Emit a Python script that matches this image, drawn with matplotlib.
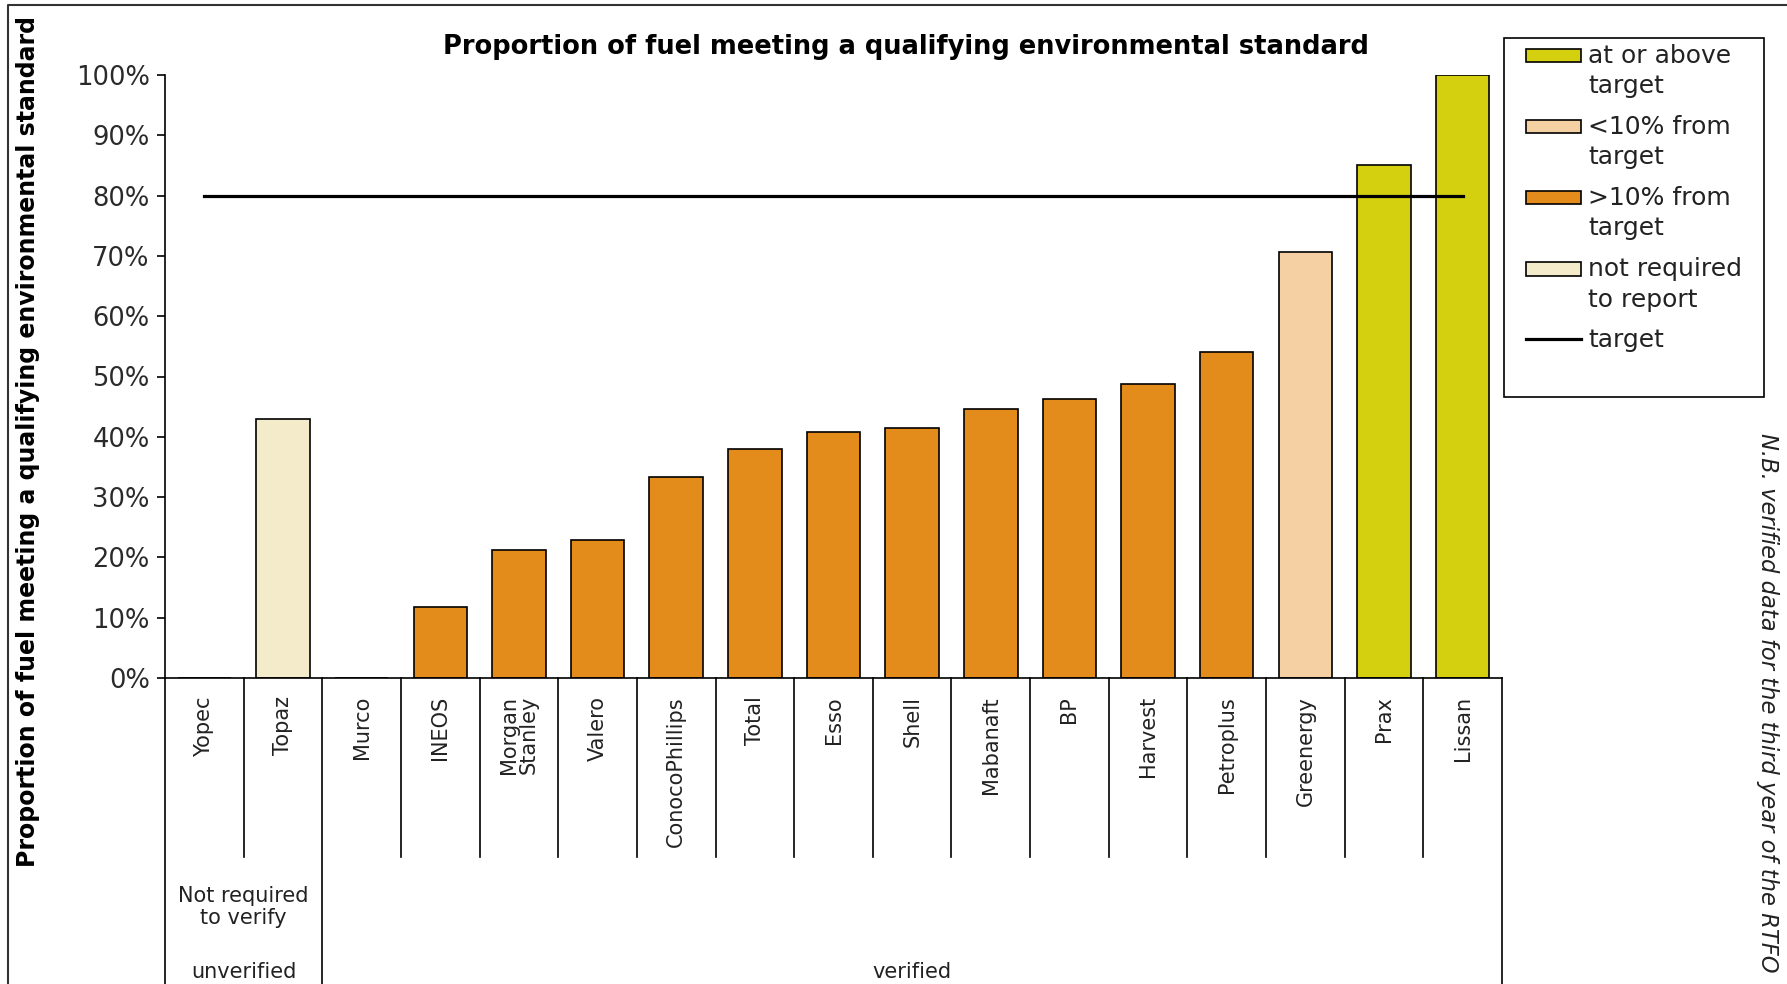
import matplotlib.pyplot as plt
import numpy as np
from matplotlib.patches import Patch, Rectangle
from matplotlib.lines import Line2D
from matplotlib.legend_handler import HandlerPatch
from matplotlib.ticker import PercentFormatter

# ---------------- data ----------------
suppliers = ["Yopec", "Topaz", "Murco", "INEOS", "Morgan\nStanley", "Valero",
             "ConocoPhillips", "Total", "Esso", "Shell", "Mabanaft", "BP",
             "Harvest", "Petroplus", "Greenergy", "Prax", "Lissan"]
share = [0.0, 42.9, 0.0, 11.7, 21.2, 22.9, 33.3, 38.0, 40.8, 41.4, 44.6,
         46.3, 48.8, 54.1, 70.7, 85.1, 100.0]
status = ["none", "not_req", "none", "far", "far", "far", "far", "far", "far",
          "far", "far", "far", "far", "far", "near", "above", "above"]
target = 80.0

status_colors = {
    "above": "#D4D010",
    "near": "#F5D0A2",
    "far": "#E38B1B",
    "not_req": "#F3EBC9",
    "none": "white",
}
legend_labels = [("above", "at or above\ntarget"), ("near", "<10% from\ntarget"),
                 ("far", ">10% from\ntarget"), ("not_req", "not required\nto report")]

W, H = 1787, 984
fig = plt.figure(figsize=(W / 100, H / 100), dpi=100)
ax = fig.add_axes([165 / W, 1 - 678 / H, (1502 - 165) / W, (678 - 75) / H])

x = np.arange(len(suppliers))
colors = [status_colors[s] for s in status]
ax.bar(x, share, width=0.68, color=colors, edgecolor="black", linewidth=1.2, zorder=2)
ax.plot([x[0], x[-1]], [target, target], color="black", linewidth=2.3, zorder=3)

ax.set_xlim(-0.5, len(suppliers) - 0.5)
ax.set_ylim(0, 100)
ax.set_yticks(np.arange(0, 101, 10))
ax.yaxis.set_major_formatter(PercentFormatter(decimals=0))
ax.tick_params(axis="y", direction="out", length=6, width=1.2, labelsize=18.5,
               labelcolor="#2a2a2a", pad=5)
ax.set_xticks(x)
ax.set_xticklabels(suppliers, rotation=90, fontsize=15, color="#222222",
                   multialignment="center", linespacing=1.0)
ax.tick_params(axis="x", length=0, pad=13)
for side in ["top", "right"]:
    ax.spines[side].set_visible(False)
for side in ["left", "bottom"]:
    ax.spines[side].set_linewidth(1.2)

# category separators below the axis
trans = ax.get_xaxis_transform()
for b in np.arange(0.5, len(suppliers) - 1, 1.0):
    if b == 1.5:
        continue
    ax.plot([b, b], [0, -0.297], color="black", linewidth=1.2, transform=trans,
            clip_on=False)
for b in [-0.5, 1.5, len(suppliers) - 0.5]:
    ax.plot([b, b], [0, -0.52], color="black", linewidth=1.2, transform=trans,
            clip_on=False)

ax.text(0.5, -0.38, "Not required\nto verify", transform=trans, ha="center",
        va="center", fontsize=15, color="#222222", linespacing=1.1)
ax.text(0.5, -0.487, "unverified", transform=trans, ha="center", va="center",
        fontsize=15, color="#222222")
ax.text(9, -0.487, "verified", transform=trans, ha="center", va="center",
        fontsize=15, color="#222222")

ax.set_ylabel("Proportion of fuel meeting a qualifying environmental standard",
              fontsize=17, fontweight="bold")
ax.yaxis.set_label_coords(-0.0935, 0.393)

fig.text(906 / W, 1 - 47 / H, "Proportion of fuel meeting a qualifying environmental standard",
         ha="center", va="center", fontsize=18.5, fontweight="bold")

fig.text(1767 / W, 1 - 433 / H, "N.B. verified data for the third year of the RTFO",
         rotation=-90, ha="center", va="top", fontsize=16.3, style="italic",
         color="#222222")

# chart border (left and top)
fig.add_artist(Line2D([8 / W, 8 / W, 1], [0, 1 - 5 / H, 1 - 5 / H],
                      color="#333333", linewidth=1.5))


# legend: patch handles sit level with the first text line
def first_line_patch(legend, orig_handle, xdescent, ydescent, width, height, fontsize):
    return Rectangle((-xdescent, -ydescent + 0.64 * fontsize), width, height)


fig.add_artist(Rectangle((1504 / W, 1 - 397 / H), (1764 - 1504) / W, (397 - 38) / H,
                         transform=fig.transFigure, fill=False, edgecolor="black",
                         linewidth=1.2))
handles = [Patch(facecolor=status_colors[k], edgecolor="black", linewidth=1.2)
           for k, _ in legend_labels]
labels = [t for _, t in legend_labels]
handles.append(Line2D([], [], color="black", linewidth=2.3))
labels.append("target")
leg = fig.legend(handles, labels, loc="upper left", bbox_to_anchor=(1508 / W, 1 - 26 / H),
                 frameon=False, fontsize=18, handlelength=2.2, handleheight=0.45,
                 handletextpad=0.3, labelspacing=0.66, borderpad=0.2,
                 labelcolor="#222222",
                 handler_map={Patch: HandlerPatch(patch_func=first_line_patch)})
for t in leg.get_texts():
    t.set_linespacing(1.35)

plt.savefig("out.png", dpi=100)
